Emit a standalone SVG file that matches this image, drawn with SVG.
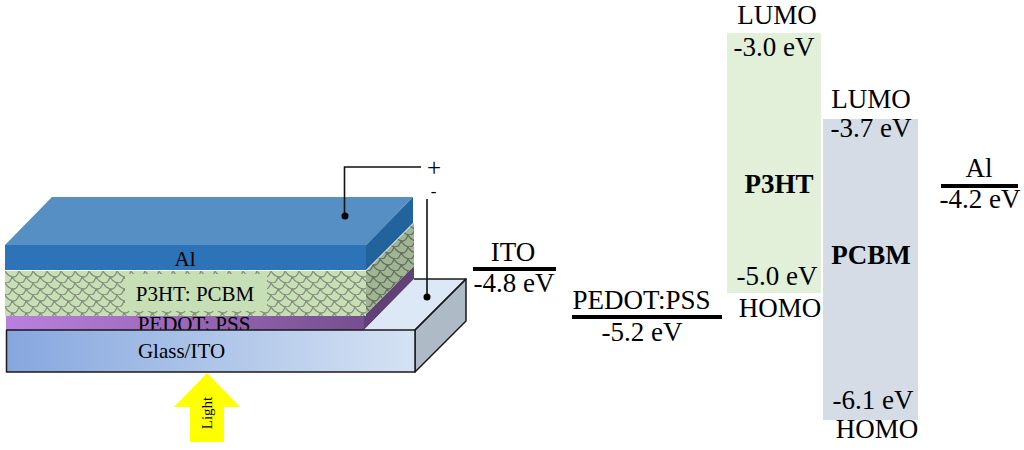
<svg xmlns="http://www.w3.org/2000/svg" width="1024" height="450" viewBox="0 0 1024 450">
<style>
text{font-family:"Liberation Serif","Times New Roman",serif;fill:#000}
.s{font-size:21px}.m{font-size:27px}.l{font-size:27px}.c{text-anchor:middle}
.b{font-weight:bold}
.k{stroke:#111;fill:none;stroke-width:1.6}
.o{stroke:#1a1a1a;stroke-width:1.5;stroke-linejoin:round}
.lv{stroke:#000;stroke-width:4;fill:none}
.sc{fill:none;stroke-width:1.300}
</style>
<defs>
<path id="scallops" d="M0 0C3 5 6 6 9 6C11 6 13 3 14 0M7 6C10 11 13 12 16 12C18 12 20 9 21 6M-7 6C-4 11 -1 12 2 12C4 12 6 9 7 6"/>
<pattern id="scale" width="14" height="12" patternUnits="userSpaceOnUse" x="5" y="271">
<rect width="14" height="12" fill="#c6dfb4"/>
<use href="#scallops" class="sc" stroke="#858f7e"/>
</pattern>
<pattern id="scaleSide" width="14" height="12" patternUnits="userSpaceOnUse" x="366" y="223">
<rect width="14" height="12" fill="#a0b592"/>
<use href="#scallops" class="sc" stroke="#666e60"/>
</pattern>
<linearGradient id="gGlass" x1="0" x2="1" y1="0" y2="0"><stop offset="0" stop-color="#86a7de"/><stop offset="1" stop-color="#d5e2f3"/></linearGradient>
<linearGradient id="gPed" x1="0" x2="1" y1="0" y2="0"><stop offset="0" stop-color="#bb80df"/><stop offset="1" stop-color="#764f8f"/></linearGradient>
</defs>

<g id="pedot-pss">
<polygon points="364,316 414,266 414,279 364,330" fill="#614277"/>
<rect x="6" y="316" width="358" height="14" fill="url(#gPed)"/>
<text class="s c" x="194" y="331">PEDOT: PSS</text>
</g>
<g id="glass-ito">
<polygon points="364,330 414,279 466,279 415,330" fill="#dde8f6"/>
<polygon points="415,330 466,279 466,321 415,372" fill="#aebbc7" class="o"/>
<rect x="6.500" y="330" width="408.500" height="42" fill="url(#gGlass)" class="o"/>
<path d="M414 279H466L415 330" class="o" fill="none"/>
<text class="s c" x="181.500" y="358">Glass/ITO</text>
</g>
<g id="p3ht-pcbm">
<polygon points="366,271 414,223 414,266 364,316" fill="url(#scaleSide)"/>
<rect x="5" y="271" width="361" height="45" fill="url(#scale)"/>
<rect x="125" y="274" width="142" height="37" fill="#c6dfb4"/>
<text class="s c" x="195" y="301">P3HT: PCBM</text>
</g>
<g id="al">
<polygon points="52,197 413,197 366,245 5,245" fill="#568fc4"/>
<polygon points="366,245 413,197 413,223 366,270" fill="#23639b"/>
<rect x="5" y="245" width="361" height="25" fill="#2c74b7"/>
<text class="s c" x="185" y="266">Al</text>
</g>

<g id="connectors">
<path class="k" d="M421 167H344.500V216"/>
<circle cx="345" cy="216" r="3.500"/>
<path class="k" d="M427 199V296"/>
<circle cx="427" cy="297" r="3.500"/>
</g>
<g id="polarity">
<text x="434" y="176" font-size="25" class="c">+</text>
<text x="433.500" y="197" font-size="17" class="c">-</text>
</g>

<g id="light">
<polygon points="207,373 240,407 224,407 224,442 190,442 190,407 174,407" fill="#ffff00"/>
<text class="c" font-size="15" transform="translate(212,413) rotate(-90)">Light</text>
</g>

<g id="ito-level">
<text class="m c" x="513" y="261">ITO</text>
<path class="lv" d="M473 269H556"/>
<text class="m c" x="514" y="292">-4.8 eV</text>
</g>
<g id="pedot-level">
<text class="m c" x="641.500" y="309">PEDOT:PSS</text>
<path class="lv" d="M572 317H722"/>
<text class="m c" x="642" y="341">-5.2 eV</text>
</g>
<g id="p3ht-band">
<rect x="727" y="33" width="94" height="260" fill="#e2efd9"/>
<text class="m c" x="777" y="24">LUMO</text>
<text class="m c" x="774" y="56">-3.0 eV</text>
<text class="l c b" x="779" y="193">P3HT</text>
<text class="m c" x="777" y="285">-5.0 eV</text>
<text class="m c" x="780" y="317">HOMO</text>
</g>
<g id="pcbm-band">
<rect x="823" y="119" width="95" height="301" fill="#d5dce6"/>
<text class="m c" x="871" y="108">LUMO</text>
<text class="m c" x="871" y="137">-3.7 eV</text>
<text class="l c b" x="871" y="264">PCBM</text>
<text class="m c" x="873" y="409">-6.1 eV</text>
<text class="m c" x="877" y="438">HOMO</text>
</g>
<g id="al-level">
<text class="m c" x="979" y="177">Al</text>
<path class="lv" d="M941 186H1018"/>
<text class="m c" x="980" y="208">-4.2 eV</text>
</g>
</svg>
